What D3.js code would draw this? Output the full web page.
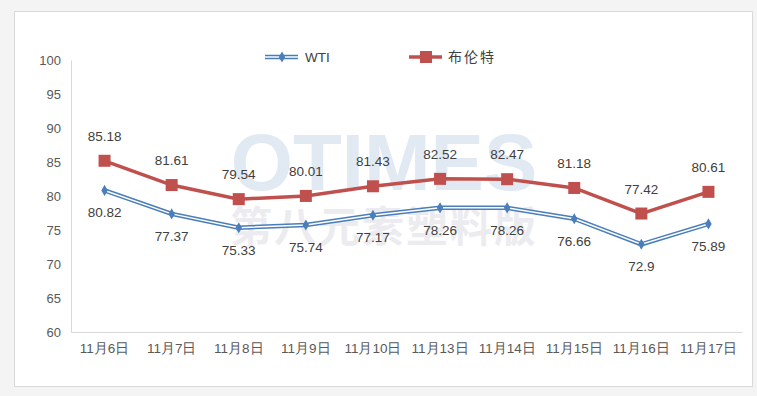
<!DOCTYPE html>
<html>
<head>
<meta charset="utf-8">
<script src="https://cdn.jsdelivr.net/npm/d3@7"></script>
<style>
  body { margin: 0; background: #f4f4f4; }
  svg { display: block; font-family: "Liberation Sans", "Noto Sans CJK SC", sans-serif; }
</style>
</head>
<body>
<div id="chart"></div>
<script>
// data
const categories = ["11月6日", "11月7日", "11月8日", "11月9日", "11月10日", "11月13日", "11月14日", "11月15日", "11月16日", "11月17日"];
const wti = [80.82, 77.37, 75.33, 75.74, 77.17, 78.26, 78.26, 76.66, 72.9, 75.89];
const brent = [85.18, 81.61, 79.54, 80.01, 81.43, 82.52, 82.47, 81.18, 77.42, 80.61];
const yTicks = [60, 65, 70, 75, 80, 85, 90, 95, 100];

const width = 757, height = 396;
const blue = "#4a7ebb", red = "#c0504d";

const svg = d3.select("#chart").append("svg")
  .attr("width", width).attr("height", height);

// chart frame
svg.append("rect")
  .attr("x", 14.5).attr("y", 11.5).attr("width", 738).attr("height", 375)
  .attr("fill", "#fff").attr("stroke", "#d9d9d9");

const x = d3.scaleBand().domain(categories).range([71, 742]);
const y = d3.scaleLinear().domain([60, 100]).range([332, 60]);
const cx = (d) => x(d) + x.bandwidth() / 2;

// watermark
svg.append("text")
  .attr("x", 384).attr("y", 190)
  .attr("text-anchor", "middle")
  .attr("font-size", 80).attr("font-weight", "bold")
  .attr("fill", "#e1e9f3")
  .text("OTIMES");
svg.append("text")
  .attr("x", 384).attr("y", 242)
  .attr("text-anchor", "middle")
  .attr("font-size", 42).attr("font-weight", "bold")
  .attr("letter-spacing", 2)
  .attr("fill", "#ececf0")
  .text("第八元素塑料版");

// axes
const yAxis = svg.append("g")
  .attr("transform", "translate(71,0)")
  .call(d3.axisLeft(y).tickValues(yTicks).tickSize(0).tickPadding(10));
yAxis.select(".domain").attr("stroke", "#d9d9d9");
yAxis.selectAll("text").attr("fill", "#595959").attr("font-size", 13);

const xAxis = svg.append("g")
  .attr("transform", "translate(0,332)")
  .call(d3.axisBottom(x).tickSize(0).tickPadding(11));
xAxis.select(".domain").attr("stroke", "#d9d9d9");
xAxis.selectAll("text").attr("fill", "#595959").attr("font-size", 13.5);

const line = d3.line()
  .x((d, i) => cx(categories[i]))
  .y((d) => y(d));

// WTI: double line
svg.append("path").datum(wti)
  .attr("d", line).attr("fill", "none")
  .attr("stroke", blue).attr("stroke-width", 4.5);
svg.append("path").datum(wti)
  .attr("d", line).attr("fill", "none")
  .attr("stroke", "#fff").attr("stroke-width", 1.5);
svg.append("g").selectAll("path")
  .data(wti).enter().append("path")
  .attr("d", d3.symbol().type(d3.symbolDiamond).size(36))
  .attr("transform", (d, i) => `translate(${cx(categories[i])},${y(d)})`)
  .attr("fill", blue);

// Brent
svg.append("path").datum(brent)
  .attr("d", line).attr("fill", "none")
  .attr("stroke", red).attr("stroke-width", 3.5);
svg.append("g").selectAll("rect")
  .data(brent).enter().append("rect")
  .attr("x", (d, i) => cx(categories[i]) - 6)
  .attr("y", (d) => y(d) - 6)
  .attr("width", 12).attr("height", 12)
  .attr("fill", red);

// data labels
svg.append("g").selectAll("text")
  .data(brent).enter().append("text")
  .attr("x", (d, i) => cx(categories[i]))
  .attr("y", (d) => y(d) - 20)
  .attr("text-anchor", "middle")
  .attr("font-size", 13.5).attr("fill", "#404040")
  .text((d) => d);
svg.append("g").selectAll("text")
  .data(wti).enter().append("text")
  .attr("x", (d, i) => cx(categories[i]))
  .attr("y", (d) => y(d) + 27)
  .attr("text-anchor", "middle")
  .attr("font-size", 13.5).attr("fill", "#404040")
  .text((d) => d);

// legend
const lg = svg.append("g");
lg.append("line").attr("x1", 265).attr("x2", 298).attr("y1", 57).attr("y2", 57)
  .attr("stroke", blue).attr("stroke-width", 4.5);
lg.append("line").attr("x1", 265).attr("x2", 298).attr("y1", 57).attr("y2", 57)
  .attr("stroke", "#fff").attr("stroke-width", 1.5);
lg.append("path").attr("d", d3.symbol().type(d3.symbolDiamond).size(36))
  .attr("transform", "translate(282,57)").attr("fill", blue);
lg.append("text").attr("x", 305).attr("y", 62)
  .attr("font-size", 13.5).attr("fill", "#404040").text("WTI");
lg.append("line").attr("x1", 409).attr("x2", 442).attr("y1", 57).attr("y2", 57)
  .attr("stroke", red).attr("stroke-width", 3.5);
lg.append("rect").attr("x", 420).attr("y", 51).attr("width", 12).attr("height", 12)
  .attr("fill", red);
lg.append("text").attr("x", 448).attr("y", 62)
  .attr("font-size", 14).attr("letter-spacing", 2).attr("fill", "#404040").text("布伦特");
</script>
</body>
</html>
